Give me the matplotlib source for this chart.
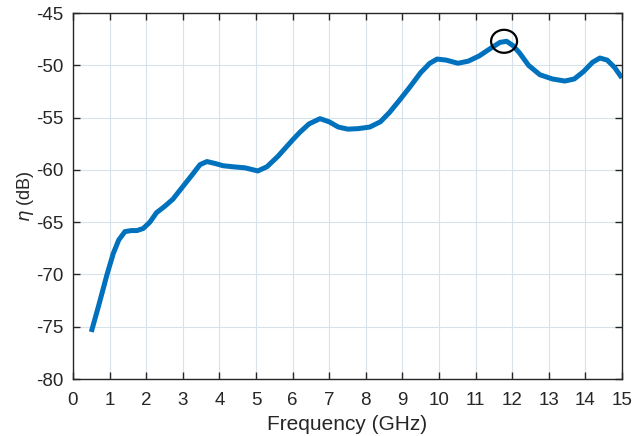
import numpy as np
import matplotlib
matplotlib.use('Agg')
import matplotlib.pyplot as plt
from matplotlib.patches import Ellipse

plt.rcParams['font.family'] = ['Liberation Sans', 'DejaVu Sans']
plt.rcParams['axes.unicode_minus'] = False

# values
freq = [0.5, 0.7, 0.93, 1.1, 1.25, 1.42, 1.6, 1.75, 1.92, 2.1, 2.28, 2.5, 2.73, 3.0,
        3.25, 3.47, 3.66, 3.9, 4.1, 4.37, 4.7, 5.05, 5.3, 5.6, 6.01, 6.2, 6.45, 6.75,
        7.0, 7.25, 7.51, 7.8, 8.11, 8.4, 8.65, 8.93, 9.2, 9.5, 9.75, 9.95, 10.2, 10.52,
        10.8, 11.1, 11.4, 11.67, 11.85, 12.02, 12.2, 12.45, 12.76, 13.1, 13.44, 13.7,
        13.95, 14.2, 14.4, 14.6, 14.8, 15.0]
eta = [-75.5, -73.0, -70.0, -68.0, -66.7, -65.9, -65.8, -65.8, -65.6, -65.0, -64.1,
       -63.5, -62.8, -61.6, -60.5, -59.5, -59.2, -59.4, -59.6, -59.7, -59.8, -60.1,
       -59.7, -58.7, -57.1, -56.4, -55.6, -55.1, -55.4, -55.9, -56.1, -56.05, -55.9,
       -55.4, -54.5, -53.3, -52.1, -50.7, -49.8, -49.4, -49.5, -49.8, -49.6, -49.1,
       -48.4, -47.8, -47.7, -48.1, -48.8, -50.0, -50.9, -51.3, -51.5, -51.3, -50.6,
       -49.7, -49.3, -49.5, -50.2, -51.2]

peak_f, peak_eta = 11.78, -47.7

xticks = list(range(0, 16))
yticks = list(range(-80, -44, 5))

fig = plt.figure(figsize=(6.32, 4.36), dpi=100)
ax = fig.add_axes([0.1155, 0.1307, 0.8685, 0.8393])

ax.plot(freq, eta, color='#0072BD', lw=3.6, solid_joinstyle='round',
        solid_capstyle='butt', zorder=3)
ax.add_patch(Ellipse((peak_f, peak_eta), width=0.71, height=2.2, fill=False,
                     edgecolor='black', lw=1.6, zorder=4))

ax.set_xlim(0, 15)
ax.set_ylim(-80, -45)
ax.set_xticks(xticks)
ax.set_yticks(yticks)
ax.grid(True, color='#d8e2ea', lw=0.8)
ax.set_axisbelow(True)
ax.tick_params(direction='in', top=True, right=True, length=5, width=1.0,
               labelsize=13.5, colors='#262626', pad=7)
ax.tick_params(axis='x', pad=9)
for s in ax.spines.values():
    s.set_linewidth(1.0)
    s.set_color('#262626')

ax.set_xlabel('Frequency (GHz)', fontsize=15, color='#262626', labelpad=5)
ax.set_ylabel(r'$\eta$ (dB)', fontsize=13, color='#262626', labelpad=0)

fig.savefig('out.png', dpi=100)
